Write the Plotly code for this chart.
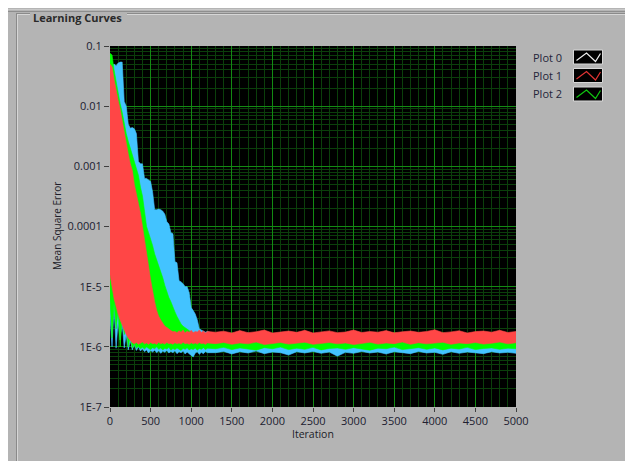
import plotly.graph_objects as go

# ---------------- data ----------------
ITERATIONS = [0, 25, 50, 75, 100, 125, 150, 175, 200, 225, 250, 275, 300, 325, 350, 375, 400,
              425, 450, 475, 500, 525, 550, 575, 600, 625, 650, 675, 700, 725, 750, 775, 800,
              825, 850, 875, 900, 925, 950, 975, 1000, 1025, 1050, 1075, 1100, 1125, 1150,
              1175, 1200,
              1300, 1400, 1500, 1600, 1700, 1800, 1900, 2000, 2100, 2200, 2300, 2400, 2500,
              2600, 2700, 2800, 2900, 3000, 3100, 3200, 3300, 3400, 3500, 3600, 3700, 3800,
              3900, 4000, 4100, 4200, 4300, 4400, 4500, 4600, 4700, 4800, 4900, 5000]

BLUE_UPPER = [4.0e-2, 4.7e-2, 5.0e-2, 4.7e-2, 5.2e-2, 5.4e-2, 5.4e-2, 1.2e-2, 1.0e-2, 5.0e-3,
              4.3e-3, 4.4e-3, 4.2e-3, 3.5e-3, 1.2e-3, 1.1e-3, 1.1e-3, 6.3e-4, 6.3e-4, 6.0e-4,
              5.6e-4, 3.7e-4, 1.9e-4, 1.9e-4, 1.95e-4, 1.9e-4, 1.8e-4, 1.6e-4, 1.2e-4, 1.1e-4,
              7.9e-5, 7.6e-5, 2.6e-5, 2.5e-5, 1.26e-5, 1.2e-5, 1.12e-5, 1.0e-5, 1.0e-5, 7.9e-6,
              4.5e-6, 4.0e-6, 3.5e-6, 2.8e-6, 2.0e-6, 1.9e-6, 1.8e-6, 1.75e-6, 1.8e-6,
              1.6e-6, 1.5e-6, 1.65e-6, 1.55e-6, 1.7e-6, 1.5e-6, 1.6e-6, 1.55e-6, 1.65e-6, 1.5e-6,
              1.6e-6, 1.7e-6, 1.55e-6, 1.5e-6, 1.6e-6, 1.65e-6, 1.55e-6, 1.6e-6, 1.5e-6, 1.7e-6,
              1.55e-6, 1.6e-6, 1.5e-6, 1.65e-6, 1.6e-6, 1.55e-6, 1.7e-6, 1.5e-6, 1.6e-6, 1.55e-6,
              1.65e-6, 1.5e-6, 1.6e-6, 1.7e-6, 1.55e-6, 1.6e-6, 1.5e-6, 1.6e-6]
BLUE_LOWER = [3.2e-6, 1.0e-6, 4.5e-6, 9.5e-7, 2.6e-6, 1.3e-6, 2.5e-6, 9.6e-7, 1.6e-6, 8.9e-7,
              1.26e-6, 8.9e-7, 1.1e-6, 8.7e-7, 1.0e-6, 8.5e-7, 9.3e-7, 8.3e-7, 8.9e-7, 7.9e-7,
              8.7e-7, 8.2e-7, 8.8e-7, 8.0e-7, 8.6e-7, 7.8e-7, 8.5e-7, 8.1e-7, 8.7e-7, 7.9e-7,
              8.4e-7, 8.0e-7, 8.6e-7, 7.7e-7, 8.3e-7, 8.0e-7, 8.5e-7, 7.6e-7, 8.2e-7, 7.8e-7,
              7.2e-7, 6.8e-7, 7.9e-7, 8.3e-7, 7.5e-7, 8.1e-7, 7.7e-7, 8.4e-7, 8.0e-7,
              8.0e-7, 8.4e-7, 7.6e-7, 8.3e-7, 7.9e-7, 8.5e-7, 7.7e-7, 8.2e-7, 8.0e-7, 7.3e-7,
              8.3e-7, 7.9e-7, 8.4e-7, 7.8e-7, 8.2e-7, 7.0e-7, 8.1e-7, 7.8e-7, 8.4e-7, 7.9e-7,
              8.2e-7, 7.6e-7, 8.3e-7, 8.0e-7, 7.7e-7, 8.4e-7, 7.9e-7, 8.1e-7, 7.5e-7, 8.3e-7,
              7.8e-7, 8.2e-7, 8.0e-7, 7.7e-7, 8.3e-7, 7.9e-7, 8.1e-7, 7.8e-7]

GREEN_UPPER = [7.6e-2, 7.1e-2, 4.0e-2, 2.5e-2, 1.6e-2, 1.1e-2, 7.9e-3, 5.0e-3, 3.5e-3, 2.6e-3,
               2.0e-3, 1.6e-3, 1.26e-3, 8.9e-4, 7.1e-4, 4.5e-4, 3.2e-4, 1.8e-4, 1.0e-4, 7.9e-5,
               6.3e-5, 4.8e-5, 3.5e-5, 2.8e-5, 2.2e-5, 1.8e-5, 1.4e-5, 1.05e-5, 7.9e-6, 6.6e-6,
               5.6e-6, 4.5e-6, 3.8e-6, 3.2e-6, 2.7e-6, 2.4e-6, 2.2e-6, 2.1e-6, 2.0e-6, 1.86e-6,
               1.74e-6, 1.7e-6, 1.65e-6, 1.7e-6, 1.62e-6, 1.68e-6, 1.6e-6, 1.66e-6, 1.62e-6,
               1.65e-6, 1.55e-6, 1.7e-6, 1.6e-6, 1.5e-6, 1.68e-6, 1.58e-6, 1.62e-6, 1.72e-6,
               1.55e-6, 1.6e-6, 1.66e-6, 1.52e-6, 1.63e-6, 1.7e-6, 1.57e-6, 1.6e-6, 1.65e-6,
               1.54e-6, 1.68e-6, 1.6e-6, 1.56e-6, 1.72e-6, 1.58e-6, 1.62e-6, 1.66e-6, 1.53e-6,
               1.6e-6, 1.7e-6, 1.57e-6, 1.63e-6, 1.58e-6, 1.67e-6, 1.55e-6, 1.62e-6, 1.7e-6,
               1.58e-6, 1.64e-6]
GREEN_LOWER = [6.3e-6, 1.4e-6, 5.5e-6, 2.0e-6, 4.0e-6, 1.0e-6, 3.5e-6, 1.6e-6, 2.2e-6, 1.0e-6,
               1.5e-6, 9.5e-7, 1.12e-6, 9.5e-7, 1.02e-6, 9.3e-7, 9.8e-7, 9.2e-7, 9.9e-7, 9.4e-7,
               9.0e-7, 9.7e-7, 9.3e-7, 1.0e-6, 9.1e-7, 9.6e-7, 8.9e-7, 9.5e-7, 9.2e-7, 9.8e-7,
               8.8e-7, 9.4e-7, 9.0e-7, 9.6e-7, 9.2e-7, 8.7e-7, 9.5e-7, 9.1e-7, 9.7e-7, 8.9e-7,
               9.3e-7, 9.0e-7, 9.6e-7, 8.8e-7, 9.4e-7, 9.1e-7, 9.7e-7, 9.0e-7, 9.5e-7,
               9.3e-7, 9.8e-7, 9.0e-7, 9.6e-7, 9.2e-7, 8.8e-7, 9.7e-7, 9.3e-7, 9.9e-7, 9.0e-7,
               9.5e-7, 9.1e-7, 9.8e-7, 8.9e-7, 9.4e-7, 9.6e-7, 9.1e-7, 9.7e-7, 9.2e-7, 8.8e-7,
               9.5e-7, 9.3e-7, 9.9e-7, 9.0e-7, 9.4e-7, 9.7e-7, 9.1e-7, 9.6e-7, 8.9e-7, 9.5e-7,
               9.2e-7, 9.8e-7, 9.0e-7, 9.4e-7, 9.6e-7, 9.1e-7, 9.5e-7, 9.3e-7]

RED_UPPER = [5.0e-2, 4.5e-2, 2.8e-2, 1.8e-2, 1.26e-2, 8.9e-3, 5.6e-3, 3.5e-3, 2.2e-3, 1.6e-3,
             1.1e-3, 8.5e-4, 5.0e-4, 3.5e-4, 2.6e-4, 1.66e-4, 1.0e-4, 6.3e-5, 3.5e-5, 2.2e-5,
             1.3e-5, 7.9e-6, 5.6e-6, 4.0e-6, 3.2e-6, 2.8e-6, 2.5e-6, 2.2e-6, 2.1e-6, 1.95e-6,
             1.86e-6, 1.78e-6, 1.8e-6, 1.72e-6, 1.85e-6, 1.75e-6, 1.9e-6, 1.7e-6, 1.82e-6, 1.74e-6,
             1.88e-6, 1.72e-6, 1.8e-6, 1.76e-6, 1.9e-6, 1.73e-6, 1.84e-6, 1.7e-6, 1.8e-6,
             1.75e-6, 1.82e-6, 1.7e-6, 1.86e-6, 1.72e-6, 1.78e-6, 1.9e-6, 1.7e-6, 1.76e-6,
             1.83e-6, 1.74e-6, 1.88e-6, 1.7e-6, 1.79e-6, 1.84e-6, 1.72e-6, 1.76e-6, 1.9e-6,
             1.73e-6, 1.8e-6, 1.75e-6, 1.86e-6, 1.71e-6, 1.78e-6, 1.83e-6, 1.74e-6, 1.8e-6,
             1.92e-6, 1.72e-6, 1.77e-6, 1.85e-6, 1.7e-6, 1.79e-6, 1.83e-6, 1.75e-6, 1.88e-6,
             1.73e-6, 1.8e-6]
RED_LOWER = [1.6e-5, 1.0e-5, 6.3e-6, 4.5e-6, 3.5e-6, 2.8e-6, 2.2e-6, 1.9e-6, 1.6e-6, 1.4e-6,
             1.26e-6, 1.17e-6, 1.12e-6, 1.18e-6, 1.1e-6, 1.15e-6, 1.2e-6, 1.12e-6, 1.16e-6, 1.1e-6,
             1.18e-6, 1.13e-6, 1.15e-6, 1.1e-6, 1.19e-6, 1.12e-6, 1.16e-6, 1.11e-6, 1.18e-6, 1.13e-6,
             1.15e-6, 1.1e-6, 1.17e-6, 1.12e-6, 1.16e-6, 1.11e-6, 1.19e-6, 1.13e-6, 1.15e-6, 1.1e-6,
             1.17e-6, 1.12e-6, 1.16e-6, 1.11e-6, 1.18e-6, 1.13e-6, 1.15e-6, 1.1e-6, 1.16e-6,
             1.13e-6, 1.18e-6, 1.1e-6, 1.16e-6, 1.12e-6, 1.2e-6, 1.09e-6, 1.15e-6, 1.18e-6,
             1.11e-6, 1.16e-6, 1.19e-6, 1.1e-6, 1.14e-6, 1.18e-6, 1.12e-6, 1.16e-6, 1.09e-6,
             1.15e-6, 1.19e-6, 1.11e-6, 1.16e-6, 1.13e-6, 1.2e-6, 1.1e-6, 1.17e-6, 1.12e-6,
             1.15e-6, 1.19e-6, 1.1e-6, 1.16e-6, 1.13e-6, 1.18e-6, 1.11e-6, 1.15e-6, 1.2e-6,
             1.12e-6, 1.17e-6]

X_TICKS = [0, 500, 1000, 1500, 2000, 2500, 3000, 3500, 4000, 4500, 5000]
X_TICK_LABELS = ["0", "500", "1000", "1500", "2000", "2500", "3000", "3500", "4000", "4500", "5000"]
Y_TICKS = [1e-1, 1e-2, 1e-3, 1e-4, 1e-5, 1e-6, 1e-7]
Y_TICK_LABELS = ["0.1", "0.01", "0.001", "0.0001", "1E-5", "1E-6", "1E-7"]
LEGEND_NAMES = ["Plot 0", "Plot 1", "Plot 2"]

# ---------------- layout helpers ----------------
# The page body has an 8px margin, so the figure starts at screen (8, 8).
OFF = 8
W, H = 625, 453
ML, MR, MT, MB = 102, 117, 38, 54
PW, PH = W - ML - MR, H - MT - MB
PANEL = "#b4b4b4"


def fx(px):  # screen px -> paper x
    return (px - OFF - ML) / PW


def fy(py):  # screen py -> paper y
    return (H - MB - (py - OFF)) / PH


def band(upper, lower, color):
    return go.Scatter(
        x=ITERATIONS + ITERATIONS[::-1],
        y=upper + lower[::-1],
        mode="lines",
        fill="toself",
        fillcolor=color,
        line=dict(color=color, width=0.6),
        hoverinfo="skip",
        showlegend=False,
    )


fig = go.Figure()
fig.add_trace(band(BLUE_UPPER, BLUE_LOWER, "#43c3ff"))
fig.add_trace(band(GREEN_UPPER, GREEN_LOWER, "#00ff00"))
fig.add_trace(band(RED_UPPER, RED_LOWER, "#ff4646"))

shapes = []


def hline(py, x0, x1, color):
    shapes.append(dict(type="line", xref="paper", yref="paper", x0=fx(x0), x1=fx(x1),
                       y0=fy(py), y1=fy(py), line=dict(color=color, width=1), layer="above"))


def vline(px, y0, y1, color):
    shapes.append(dict(type="line", xref="paper", yref="paper", x0=fx(px), x1=fx(px),
                       y0=fy(y0), y1=fy(y1), line=dict(color=color, width=1), layer="above"))


# panel edge
hline(9.5, 8, 633, "#c8c8c8")
hline(11.5, 8, 633, "#8e8e8e")
# group box (top line broken around the title)
hline(13.5, 17, 30, "#8a8a8a")
hline(14.5, 18, 30, "#d6d6d6")
hline(13.5, 127, 628, "#8a8a8a")
hline(14.5, 127, 627, "#d6d6d6")
vline(16.5, 13, 461, "#8a8a8a")
vline(17.5, 14, 461, "#d6d6d6")
vline(627.5, 13, 461, "#8a8a8a")
vline(628.5, 13, 461, "#d6d6d6")

# legend swatches
legend_colors = ["#eeeeee", "#e03434", "#10c810"]
row_tops = [50, 68.5, 87]
bx0, bx1 = 573.5, 602.5
annotations = []
for name, col, top in zip(LEGEND_NAMES, legend_colors, row_tops):
    bot = top + 14
    shapes.append(dict(type="rect", xref="paper", yref="paper", x0=fx(bx0), x1=fx(bx1),
                       y0=fy(bot), y1=fy(top), fillcolor="black",
                       line=dict(color="#d8d8d8", width=1), layer="above"))
    pts = [(bx0 + 3, top + 10.5), (bx0 + 13, top + 3), (bx0 + 22, top + 11.5), (bx1 - 2, top + 3.5)]
    path = "M " + " L ".join(f"{fx(a):.5f},{fy(b):.5f}" for a, b in pts)
    shapes.append(dict(type="path", xref="paper", yref="paper", path=path,
                       line=dict(color=col, width=1.2), layer="above"))
    annotations.append(dict(text=name, xref="paper", yref="paper", x=fx(531), y=fy(top + 7),
                            xanchor="left", yanchor="middle", showarrow=False,
                            font=dict(family="Open Sans", size=11, color="#24243a")))

# title of group box
annotations.append(dict(text="<b>Learning Curves</b>", xref="paper", yref="paper",
                        x=fx(32), y=fy(8.5), xanchor="left", yanchor="top", showarrow=False,
                        borderpad=0,
                        font=dict(family="Open Sans", size=11, color="#2a2a2a")))
# axis titles
annotations.append(dict(text="Mean Square Error", xref="paper", yref="paper", x=fx(57), y=fy(226),
                        textangle=-90, showarrow=False, xanchor="center", yanchor="middle",
                        font=dict(family="Open Sans", size=10, color="#1c1c28")))
annotations.append(dict(text="Iteration", xref="paper", yref="paper", x=fx(313), y=fy(434),
                        showarrow=False, xanchor="center", yanchor="middle",
                        font=dict(family="Open Sans", size=10.5, color="#1c1c28")))

y_minor = [m * 10.0 ** e for e in range(-7, -1) for m in range(2, 10)]

fig.update_layout(
    width=W, height=H,
    margin=dict(l=ML, r=MR, t=MT, b=MB),
    paper_bgcolor=PANEL,
    plot_bgcolor="black",
    showlegend=False,
    shapes=shapes,
    annotations=annotations,
    font=dict(family="Open Sans", size=11, color="#202030"),
    xaxis=dict(
        range=[0, 5000], tickmode="array", tickvals=X_TICKS, ticktext=X_TICK_LABELS,
        showgrid=True, gridcolor="#138a13", gridwidth=1, zeroline=False,
        ticks="outside", ticklen=4, tickcolor="#404040", showline=False,
        minor=dict(tickmode="linear", tick0=0, dtick=100, showgrid=True,
                   gridcolor="#0b3f0b", gridwidth=1, ticks=""),
        tickfont=dict(family="Open Sans", size=11, color="#202030"),
    ),
    yaxis=dict(
        type="log", range=[-7, -1], tickmode="array", tickvals=Y_TICKS, ticktext=Y_TICK_LABELS,
        showgrid=True, gridcolor="#138a13", gridwidth=1, zeroline=False,
        ticks="outside", ticklen=5, tickcolor="#404040", showline=False,
        minor=dict(tickmode="array", tickvals=y_minor, showgrid=True,
                   gridcolor="#0b3f0b", gridwidth=1, ticks=""),
        tickfont=dict(family="Open Sans", size=11, color="#202030"),
    ),
)

fig.write_html("out.html")
